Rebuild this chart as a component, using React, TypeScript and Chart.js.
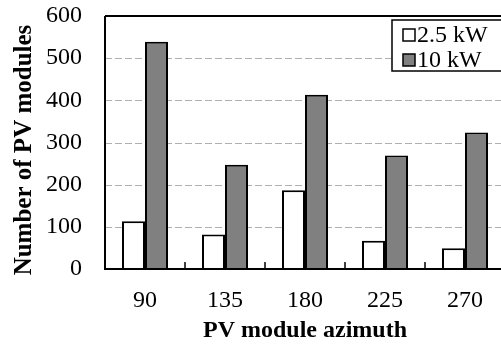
import React, { useEffect, useRef } from "react";
import { Chart, registerables } from "chart.js";

Chart.register(...registerables);

const categories = ["90", "135", "180", "225", "270"];
const series25 = [113, 82, 187, 67, 49];
const series10 = [539, 247, 413, 269, 324];
const seriesLabels = ["2.5 kW", "10 kW"];
const yTicks = [0, 100, 200, 300, 400, 500, 600];
const xTitle = "PV module azimuth";
const yTitle = "Number of PV modules";

const FONT = "'Liberation Serif', 'Times New Roman', serif";

const framePlugin = {
  id: "frame",
  beforeDatasetsDraw(chart: any) {
    const { ctx, chartArea } = chart;
    const y = chart.scales.y;
    ctx.save();
    ctx.strokeStyle = "#b0b0b0";
    ctx.lineWidth = 1;
    ctx.setLineDash([7, 3]);
    for (const v of yTicks) {
      if (v === 0 || v === 600) continue;
      const py = Math.round(y.getPixelForValue(v)) + 0.5;
      ctx.beginPath();
      ctx.moveTo(chartArea.left, py);
      ctx.lineTo(chartArea.right, py);
      ctx.stroke();
    }
    ctx.restore();
  },
  afterDatasetsDraw(chart: any) {
    const { ctx, chartArea } = chart;
    const x = chart.scales.x;
    ctx.save();
    ctx.strokeStyle = "#000";
    ctx.lineWidth = 2;
    ctx.setLineDash([]);
    ctx.beginPath();
    ctx.moveTo(chartArea.left, chartArea.top);
    ctx.lineTo(chartArea.right, chartArea.top);
    ctx.moveTo(chartArea.left, chartArea.top);
    ctx.lineTo(chartArea.left, chartArea.bottom);
    ctx.lineTo(chartArea.right, chartArea.bottom);
    ctx.stroke();
    // inner tick marks at category boundaries
    ctx.lineWidth = 1.5;
    ctx.beginPath();
    for (let i = 0; i < categories.length - 1; i++) {
      const px = (x.getPixelForValue(i) + x.getPixelForValue(i + 1)) / 2;
      ctx.moveTo(px, chartArea.bottom);
      ctx.lineTo(px, chartArea.bottom - 7);
    }
    ctx.stroke();

    // y axis title
    ctx.save();
    ctx.translate(25, 150);
    ctx.rotate(-Math.PI / 2);
    ctx.font = `bold 25px ${FONT}`;
    ctx.fillStyle = "#000";
    ctx.textAlign = "center";
    ctx.textBaseline = "middle";
    ctx.fillText(yTitle, 0, 0);
    ctx.restore();

    // legend box
    const bx = 392, by = 20, bw = 120, bh = 51;
    ctx.fillStyle = "#fff";
    ctx.fillRect(bx, by, bw, bh);
    ctx.lineWidth = 1.5;
    ctx.strokeStyle = "#000";
    ctx.strokeRect(bx, by, bw, bh);
    ctx.font = `24px ${FONT}`;
    ctx.textBaseline = "middle";
    ctx.textAlign = "left";
    chart.data.datasets.forEach((ds: any, i: number) => {
      const cy = 35 + i * 25;
      ctx.fillStyle = ds.backgroundColor;
      ctx.fillRect(403, cy - 6, 12, 12);
      ctx.lineWidth = 1.5;
      ctx.strokeStyle = "#000";
      ctx.strokeRect(403, cy - 6, 12, 12);
      ctx.fillStyle = "#000";
      ctx.fillText(ds.label, 417, cy + 1);
    });
    ctx.restore();
  },
};

export default function App() {
  const ref = useRef<HTMLCanvasElement>(null);
  useEffect(() => {
    if (!ref.current) return;
    const chart = new Chart(ref.current, {
      type: "bar",
      data: {
        labels: categories,
        datasets: [
          {
            label: seriesLabels[0],
            data: series25,
            backgroundColor: "#ffffff",
            borderColor: "#000000",
            borderWidth: 2,
            categoryPercentage: 0.575,
            barPercentage: 1,
          },
          {
            label: seriesLabels[1],
            data: series10,
            backgroundColor: "#808080",
            borderColor: "#000000",
            borderWidth: 2,
            categoryPercentage: 0.575,
            barPercentage: 1,
          },
        ],
      },
      options: {
        responsive: false,
        animation: false,
        layout: { padding: { top: 16, left: 0, right: 0, bottom: 0 } },
        plugins: { legend: { display: false }, tooltip: { enabled: false } },
        scales: {
          x: {
            grid: { display: false, drawTicks: false },
            border: { display: false },
            ticks: { color: "#000", font: { family: FONT, size: 24 }, padding: 17 },
            title: {
              display: true,
              text: xTitle,
              color: "#000",
              font: { family: FONT, size: 24, weight: "bold" },
              padding: { top: 0, bottom: 0 },
            },
            afterFit: (s: any) => {
              s.height = 76;
              s.paddingLeft = 0;
              s.paddingRight = 0;
            },
          },
          y: {
            min: 0,
            max: 600,
            afterBuildTicks: (s: any) => {
              s.ticks = yTicks.map((v) => ({ value: v }));
            },
            grid: { display: false, drawTicks: false },
            border: { display: false },
            ticks: { color: "#000", font: { family: FONT, size: 24 }, padding: 23 },
            title: { display: false },
            afterFit: (s: any) => {
              s.width = 105;
              s.paddingTop = 0;
              s.paddingBottom = 0;
            },
          },
        },
      },
      plugins: [framePlugin],
    } as any);
    return () => chart.destroy();
  }, []);
  return (
    <div style={{ position: "fixed", left: 0, top: 0, width: 501, height: 345, overflow: "hidden", background: "#fff" }}>
      <canvas ref={ref} width={505} height={345} style={{ display: "block" }} />
    </div>
  );
}
